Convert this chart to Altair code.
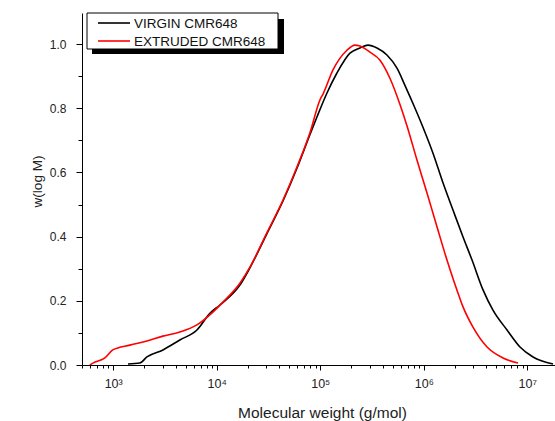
import altair as alt
import pandas as pd

series_names = ["VIRGIN CMR648", "EXTRUDED CMR648"]
series_colors = ["#000000", "#ff0000"]

virgin_mw = [1390, 1811, 2118, 3027, 4406, 6442, 8590, 10740, 16750, 20940,
             30410, 43650, 59570, 79430, 92900, 115900, 144900, 193600, 241500, 289100,
             353200, 440600, 550800, 660700, 803500, 981700, 1227000, 1535000, 1914000, 2393000,
             2924000, 3733000, 4656000, 6368000, 8492000, 11350000, 17700000]
virgin_w = [0.003, 0.006, 0.025, 0.047, 0.078, 0.109, 0.161, 0.187, 0.249, 0.303,
            0.408, 0.511, 0.613, 0.718, 0.773, 0.847, 0.910, 0.972, 0.988, 0.997,
            0.988, 0.966, 0.925, 0.870, 0.808, 0.741, 0.660, 0.567, 0.483, 0.399,
            0.327, 0.234, 0.171, 0.109, 0.056, 0.025, 0.003]

extruded_mw = [596, 637, 832, 993, 1449, 2118, 3020, 4406, 6442, 9183,
               11480, 16750, 20940, 30410, 43650, 59570, 79430, 99310, 106900, 132400,
               181100, 216300, 242100, 302000, 377600, 472100, 588800, 688700, 859000, 1074000,
               1343000, 1675000, 1791000, 2089000, 2393000, 2985000, 4083000, 5821000, 8128000]
extruded_w = [0.0, 0.006, 0.022, 0.047, 0.062, 0.075, 0.090, 0.103, 0.125, 0.165,
              0.196, 0.255, 0.305, 0.411, 0.514, 0.617, 0.723, 0.826, 0.846, 0.919,
              0.981, 0.997, 0.994, 0.975, 0.950, 0.893, 0.812, 0.745, 0.639, 0.536,
              0.430, 0.327, 0.298, 0.234, 0.181, 0.118, 0.056, 0.022, 0.006]

x_domain = [500, 18500000]
y_domain = [0, 1.097]
x_ticks = [m * 10 ** e for e in range(2, 8) for m in range(1, 10) if 500 <= m * 10 ** e <= 18500000]
y_ticks = [0.0, 0.1, 0.2, 0.3, 0.4, 0.5, 0.6, 0.7, 0.8, 0.9, 1.0]

df = pd.concat([
    pd.DataFrame({"M": virgin_mw, "w": virgin_w, "series": series_names[0]}),
    pd.DataFrame({"M": extruded_mw, "w": extruded_w, "series": series_names[1]}),
])

FONT = "Liberation Sans"
is_major = "abs(log(datum.value)/LN10 - round(log(datum.value)/LN10)) < 0.001"
sup = "['⁰','¹','²','³','⁴','⁵','⁶','⁷','⁸','⁹'][round(log(datum.value)/LN10)]"

x_axis = alt.Axis(
    values=x_ticks,
    labelExpr=f"({is_major}) ? '10' + {sup} : ''",
    tickSize={"condition": {"test": is_major, "value": 5}, "value": 3},
    labelOverlap=False, labelFlush=False, grid=False,
    domainColor="black", tickColor="black", labelColor="#222222",
    labelFont=FONT, labelFontSize=12.5, labelPadding=7,
    title="Molecular weight (g/mol)", titleFont=FONT, titleFontSize=15.5,
    titleFontWeight="normal", titleColor="#222222",
    titleX=240, titleY=52, titleBaseline="alphabetic",
)
y_axis = alt.Axis(
    values=y_ticks,
    labelExpr="round(datum.value*10) % 2 == 0 ? format(datum.value, '.1f') : ''",
    tickSize={"condition": {"test": "round(datum.value*10) % 2 == 0", "value": 6}, "value": 4},
    labelOverlap=False, labelFlush=False, grid=False,
    domainColor="black", tickColor="black", labelColor="#222222",
    labelFont=FONT, labelFontSize=12, labelPadding=10,
    title="w(log M)", titleFont=FONT, titleFontSize=13.5,
    titleFontWeight="normal", titleColor="#222222",
    titleX=-41, titleY=168, titleBaseline="alphabetic", titleAngle=-90,
)

lines = alt.Chart(df).mark_line(strokeWidth=1.6, clip=True, interpolate="monotone").encode(
    x=alt.X("M:Q", scale=alt.Scale(type="log", domain=x_domain, nice=False), axis=x_axis),
    y=alt.Y("w:Q", scale=alt.Scale(domain=y_domain, nice=False, zero=False), axis=y_axis),
    color=alt.Color("series:N", scale=alt.Scale(domain=series_names, range=series_colors), legend=None),
    order=alt.Order("M:Q"),
)

one = alt.Data(values=[{"k": 1}])
shadow = alt.Chart(one).mark_rect(color="black").encode(
    x=alt.value(10), x2=alt.value(202), y=alt.value(6), y2=alt.value(41))
box = alt.Chart(one).mark_rect(fill="white", stroke="black", strokeWidth=1).encode(
    x=alt.value(5), x2=alt.value(196), y=alt.value(0), y2=alt.value(36))

legend_layers = []
row_y = [10, 28]
for name, col, yy in zip(series_names, series_colors, row_y):
    legend_layers.append(alt.Chart(one).mark_rule(color=col, strokeWidth=1.6).encode(
        x=alt.value(16), x2=alt.value(48), y=alt.value(yy)))
    legend_layers.append(alt.Chart(one).mark_text(
        align="left", baseline="middle", font=FONT, fontSize=13.5, color="#111111").encode(
        x=alt.value(52), y=alt.value(yy + 1), text=alt.value(name)))

chart = alt.layer(lines, shadow, box, *legend_layers).properties(
    width=473, height=352,
    padding={"left": 82, "top": 13, "right": 0, "bottom": 56},
    autosize=alt.AutoSizeParams(type="none"),
).configure_view(stroke=None)

chart.save("out.html", embed_options={"renderer": "svg", "actions": False})
